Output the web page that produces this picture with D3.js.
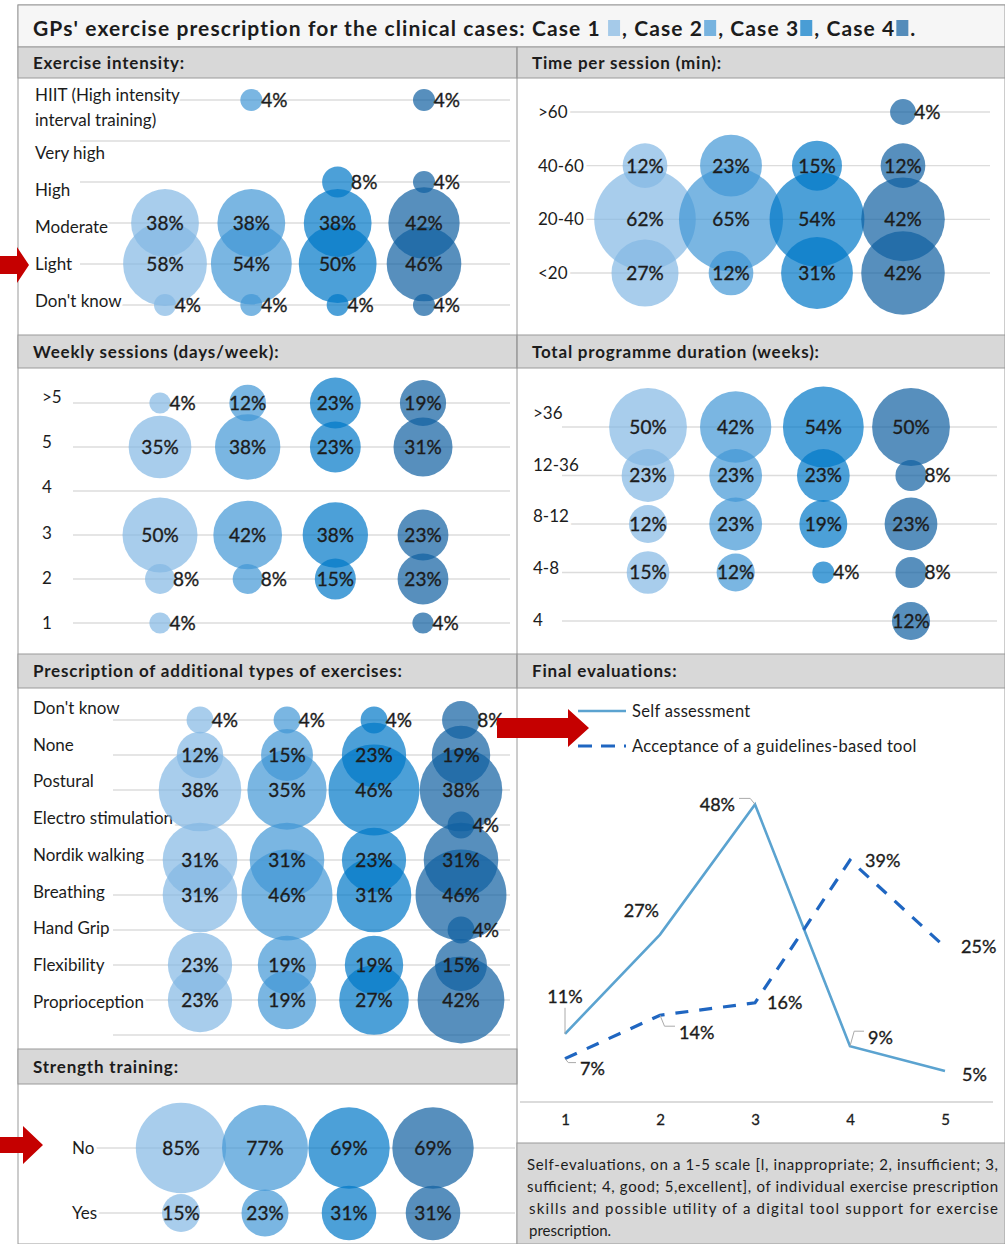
<!DOCTYPE html>
<html>
<head>
<meta charset="utf-8">
<script src="https://cdn.jsdelivr.net/npm/d3@7"></script>
<style>
  body { margin: 0; background: #fff; }
  text { font-family: Lato, "Open Sans", sans-serif; fill: #1c1c1c; }
</style>
</head>
<body>
<svg id="chart" width="1005" height="1244"></svg>
<script>
// ---- data ----
var cases = ["Case 1", "Case 2", "Case 3", "Case 4"];
var caseColors = ["#83b8e4", "#4197d6", "#0077c7", "#105fa1"];

var intensityRows = ["HIIT (High intensity\ninterval training)", "Very high", "High", "Moderate", "Light", "Don't know"];
var intensityValues = [
  [0, 4, 0, 4],
  [0, 0, 0, 0],
  [0, 0, 8, 4],
  [38, 38, 38, 42],
  [58, 54, 50, 46],
  [4, 4, 4, 4]
];

var timeRows = [">60", "40-60", "20-40", "<20"];
var timeValues = [
  [0, 0, 0, 4],
  [12, 23, 15, 12],
  [62, 65, 54, 42],
  [27, 12, 31, 42]
];

var weeklyRows = [">5", "5", "4", "3", "2", "1"];
var weeklyValues = [
  [4, 12, 23, 19],
  [35, 38, 23, 31],
  [0, 0, 0, 0],
  [50, 42, 38, 23],
  [8, 8, 15, 23],
  [4, 0, 0, 4]
];

var durationRows = [">36", "12-36", "8-12", "4-8", "4"];
var durationValues = [
  [50, 42, 54, 50],
  [23, 23, 23, 8],
  [12, 23, 19, 23],
  [15, 12, 4, 8],
  [0, 0, 0, 12]
];

var extraRows = ["Don't know", "None", "Postural", "Electro stimulation", "Nordik walking", "Breathing", "Hand Grip", "Flexibility", "Proprioception"];
var extraValues = [
  [4, 4, 4, 8],
  [12, 15, 23, 19],
  [38, 35, 46, 38],
  [0, 0, 0, 4],
  [31, 31, 23, 31],
  [31, 46, 31, 46],
  [0, 0, 0, 4],
  [23, 19, 19, 15],
  [23, 19, 27, 42]
];

var strengthRows = ["No", "Yes"];
var strengthValues = [
  [85, 77, 69, 69],
  [15, 23, 31, 31]
];

var evalScale = ["1", "2", "3", "4", "5"];
var selfAssessment = [11, 27, 48, 9, 5];
var toolAcceptance = [7, 14, 16, 39, 25];

var captionLines = [
  "Self-evaluations, on a 1-5 scale [l, inappropriate; 2, insufficient; 3,",
  "sufficient; 4, good; 5,excellent], of individual exercise prescription",
  "skills and possible utility of a digital tool support for exercise",
  "prescription."
];

var svg = d3.select("#chart");

// ---- frame & header bands ----
svg.append("rect").attr("x", 18).attr("y", 5).attr("width", 987).attr("height", 1239)
  .attr("fill", "#fff").attr("stroke", "#9a9a9a");
svg.append("rect").attr("x", 18).attr("y", 5).attr("width", 987).attr("height", 42)
  .attr("fill", "#f6f6f6").attr("stroke", "#9a9a9a");

var bands = [
  {x: 18, y: 47, w: 499, h: 31, t: "Exercise intensity:"},
  {x: 517, y: 47, w: 488, h: 31, t: "Time per session (min):"},
  {x: 18, y: 335, w: 499, h: 33, t: "Weekly sessions (days/week):"},
  {x: 517, y: 335, w: 488, h: 33, t: "Total programme duration (weeks):"},
  {x: 18, y: 654, w: 499, h: 34, t: "Prescription of additional types of exercises:"},
  {x: 517, y: 654, w: 488, h: 34, t: "Final evaluations:"},
  {x: 18, y: 1049, w: 499, h: 35, t: "Strength training:"}
];
svg.selectAll(".band").data(bands).enter().append("rect")
  .attr("x", function(d) { return d.x; })
  .attr("y", function(d) { return d.y; })
  .attr("width", function(d) { return d.w; })
  .attr("height", function(d) { return d.h; })
  .attr("fill", "#d8d8d8").attr("stroke", "#9a9a9a");
svg.selectAll(".bandText").data(bands).enter().append("text")
  .attr("x", function(d) { return d.x + 15; })
  .attr("y", function(d) { return d.y + d.h / 2 + 6; })
  .style("font-size", "17px").style("font-weight", "bold").style("letter-spacing", "0.8px")
  .text(function(d) { return d.t; });

// vertical divider
svg.append("line").attr("x1", 517).attr("x2", 517).attr("y1", 47).attr("y2", 1244).attr("stroke", "#9a9a9a");

// caption box
svg.append("rect").attr("x", 517).attr("y", 1143).attr("width", 488).attr("height", 101)
  .attr("fill", "#d8d8d8").attr("stroke", "#9a9a9a");
svg.selectAll(".cap").data(captionLines).enter().append("text")
  .attr("x", function(d, i) { return i < 2 ? 527 : 529; })
  .attr("y", function(d, i) { return 1170 + i * 22; })
  .style("font-size", "15px")
  .attr("textLength", function(d, i) { return i < 3 ? (i < 2 ? 471 : 469) : null; })
  .attr("lengthAdjust", "spacing")
  .text(function(d) { return d; });

// ---- title with case swatches ----
var title = svg.append("g");
var tx = 33;
var pieces = ["GPs' exercise prescription for the clinical cases: Case 1 ", ", Case 2", ", Case 3", ", Case 4", "."];
pieces.forEach(function(p, i) {
  var t = title.append("text").attr("x", tx).attr("y", 36)
    .style("font-size", "21px").style("font-weight", "bold").style("letter-spacing", "1.1px")
    .style("white-space", "pre").text(p);
  tx += t.node().getComputedTextLength();
  if (i < 4) {
    title.append("rect").attr("x", tx + 1).attr("y", 20).attr("width", 12).attr("height", 16)
      .attr("fill", caseColors[i]).attr("fill-opacity", 0.7);
    tx += 15;
  }
});

// ---- bubble panels ----
function bubblePanel(cfg) {
  var g = svg.append("g");
  var x = d3.scalePoint().domain(cases).range(cfg.xRange);
  var y = d3.scalePoint().domain(cfg.rows).range(cfg.yRange);
  var ly = d3.scalePoint().domain(cfg.rows).range(cfg.labelRange || cfg.yRange);
  var r = d3.scaleSqrt().domain([0, 100]).range([0, cfg.rMax]);

  var lines = cfg.rows.map(function(d) { return y(d); });
  if (cfg.extraLine) lines.push(y(cfg.rows[cfg.rows.length - 1]) + y.step());
  g.selectAll(".grid").data(lines).enter().append("line")
    .attr("x1", cfg.gridX[0]).attr("x2", cfg.gridX[1])
    .attr("y1", function(d) { return d; }).attr("y2", function(d) { return d; })
    .attr("stroke", "#dcdcdc").attr("stroke-width", 1.3);

  // row labels
  var lab = g.selectAll(".rowLabel").data(cfg.rows).enter().append("text")
    .attr("x", cfg.labelX)
    .attr("y", function(d) { return ly(d); })
    .style("font-size", "17px")
    .attr("stroke", "#fff").attr("stroke-width", 6).attr("paint-order", "stroke");
  lab.each(function(d) {
    var parts = d.split("\n");
    var el = d3.select(this);
    parts.forEach(function(p, i) {
      el.append("tspan").attr("x", cfg.labelX)
        .attr("dy", i == 0 ? (parts.length > 1 ? "-0.9em" : "0.35em") : "1.5em")
        .text(p);
    });
  });

  var cells = [];
  cfg.rows.forEach(function(row, i) {
    cfg.values[i].forEach(function(v, j) {
      if (v > 0) cells.push({row: row, c: cases[j], ci: j, v: v});
    });
  });

  g.selectAll("circle").data(cells).enter().append("circle")
    .attr("cx", function(d) { return x(d.c); })
    .attr("cy", function(d) { return y(d.row); })
    .attr("r", function(d) { return r(d.v); })
    .attr("fill", function(d) { return caseColors[d.ci]; })
    .attr("fill-opacity", 0.7);

  g.selectAll(".val").data(cells).enter().append("text")
    .attr("x", function(d) { return d.v <= 8 ? x(d.c) + r(d.v) * 0.8 + 1 : x(d.c); })
    .attr("y", function(d) { return y(d.row); })
    .attr("dy", "0.36em")
    .attr("text-anchor", function(d) { return d.v <= 8 ? "start" : "middle"; })
    .style("font-size", "19px")
    .attr("stroke", "#1c1c1c").attr("stroke-width", 0.35)
    .text(function(d) { return d.v + "%"; });
}

bubblePanel({rows: intensityRows, values: intensityValues, xRange: [165, 424], yRange: [100, 305],
  labelRange: [116, 301], labelX: 35, gridX: [80, 510], rMax: 55});
bubblePanel({rows: timeRows, values: timeValues, xRange: [645, 903], yRange: [112, 273],
  labelX: 538, gridX: [565, 990], rMax: 64.5});
bubblePanel({rows: weeklyRows, values: weeklyValues, xRange: [160, 423], yRange: [403, 623],
  labelRange: [397, 623], labelX: 42, gridX: [73, 510], rMax: 53});
bubblePanel({rows: durationRows, values: durationValues, xRange: [648, 911], yRange: [427, 621],
  labelRange: [413, 620], labelX: 533, gridX: [562, 997], rMax: 55});
bubblePanel({rows: extraRows, values: extraValues, xRange: [200, 461], yRange: [720, 1000],
  labelRange: [708, 1002], labelX: 33, gridX: [113, 510], rMax: 67, extraLine: true});
bubblePanel({rows: strengthRows, values: strengthValues, xRange: [181, 433], yRange: [1148, 1213],
  labelX: 72, gridX: [95, 515], rMax: 49});

// ---- final evaluations line chart ----
var ex = d3.scalePoint().domain(evalScale).range([565, 945]);
var ey = d3.scaleLinear().domain([0, 50]).range([1102, 792]);
var le = svg.append("g");

le.append("line").attr("x1", 520).attr("x2", 993).attr("y1", ey(0)).attr("y2", ey(0))
  .attr("stroke", "#cfcfcf").attr("stroke-width", 1.3);
var xAxis = le.append("g").attr("transform", "translate(0," + ey(0) + ")")
  .call(d3.axisBottom(ex).tickSize(0).tickPadding(12));
xAxis.select(".domain").remove();
xAxis.selectAll("text").style("font-size", "15px").style("font-family", "Lato, sans-serif")
  .attr("fill", "#1c1c1c").attr("stroke", "#1c1c1c").attr("stroke-width", 0.3);

var line = d3.line().x(function(d, i) { return ex(evalScale[i]); }).y(function(d) { return ey(d); });
le.append("path").datum(selfAssessment).attr("d", line)
  .attr("fill", "none").attr("stroke", "#5ba3d0").attr("stroke-width", 2.6);
le.append("path").datum(toolAcceptance).attr("d", line)
  .attr("fill", "none").attr("stroke", "#1f66c1").attr("stroke-width", 3.2)
  .attr("stroke-dasharray", "13 11");

// label placement: [dx, dy, anchor, leader]
var selfLabelPos = [[0, -37, "middle", true], [-1, -24, "end", false], [-20, 0, "end", true], [18, -9, "start", true], [17, 4, "start", false]];
var toolLabelPos = [[15, 10, "start", true], [19, 17, "start", true], [12, 0, "start", false], [15, 0, "start", false], [16, 0, "start", false]];

function pointLabels(vals, pos) {
  vals.forEach(function(v, i) {
    var px = ex(evalScale[i]), py = ey(v), p = pos[i];
    if (p[3]) {
      var lx = px + (p[2] == "middle" ? 0 : (p[0] > 0 ? p[0] - 4 : p[0] + 4));
      var lyy = py + (p[2] == "middle" ? p[1] + 11 : p[1] - 6);
      le.append("path").attr("d", "M" + px + "," + py + "L" + (p[2] == "middle" ? px : px + (lx - px) * 0.3) + "," + lyy + "L" + lx + "," + lyy)
        .attr("fill", "none").attr("stroke", "#aaa").attr("stroke-width", 1);
    }
    le.append("text").attr("x", px + p[0]).attr("y", py + p[1]).attr("dy", "0.36em")
      .attr("text-anchor", p[2]).style("font-size", "18px")
      .attr("stroke", "#1c1c1c").attr("stroke-width", 0.35)
      .text(v + "%");
  });
}
pointLabels(selfAssessment, selfLabelPos);
pointLabels(toolAcceptance, toolLabelPos);

// legend
var legend = [{t: "Self assessment", c: "#5ba3d0", w: 2.6, dash: null, y: 711},
              {t: "Acceptance of a guidelines-based tool", c: "#1f66c1", w: 3.2, dash: "14 9", y: 746}];
legend.forEach(function(l) {
  le.append("line").attr("x1", 578).attr("x2", 626).attr("y1", l.y).attr("y2", l.y)
    .attr("stroke", l.c).attr("stroke-width", l.w).attr("stroke-dasharray", l.dash);
  le.append("text").attr("x", 632).attr("y", l.y).attr("dy", "0.36em")
    .style("font-size", "16.5px").style("letter-spacing", "0.3px").text(l.t);
});

// ---- red pointer arrows ----
var arrows = [
  {x0: 0, x1: 17, x2: 29, y: 265, sh: 9, hh: 18},
  {x0: 497, x1: 568, x2: 589, y: 728, sh: 10, hh: 19},
  {x0: 0, x1: 23, x2: 43, y: 1145, sh: 8, hh: 19}
];
arrows.forEach(function(a) {
  var pts = [[a.x0, a.y - a.sh], [a.x1, a.y - a.sh], [a.x1, a.y - a.hh], [a.x2, a.y],
             [a.x1, a.y + a.hh], [a.x1, a.y + a.sh], [a.x0, a.y + a.sh]];
  svg.append("polygon").attr("points", pts.map(function(p) { return p.join(","); }).join(" "))
    .attr("fill", "#c50000");
});
</script>
</body>
</html>
